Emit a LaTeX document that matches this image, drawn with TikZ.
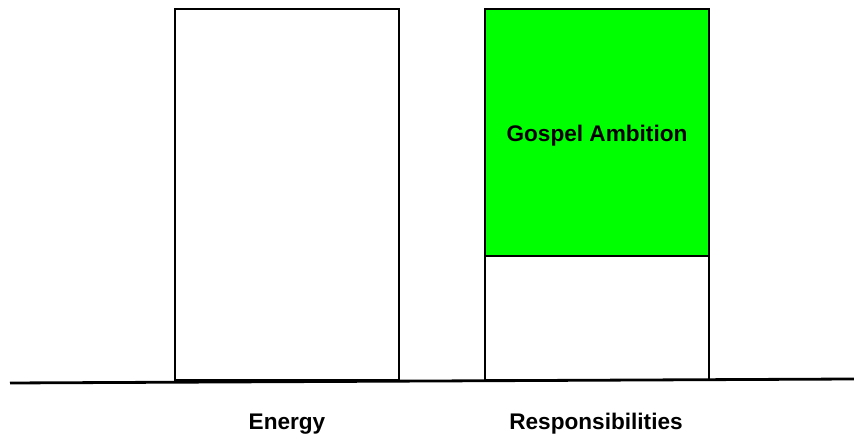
\documentclass[tikz,border=0pt]{standalone}
\usepackage{fontspec}
\setmainfont{Liberation Sans}
\usetikzlibrary{positioning}
\definecolor{ambition}{RGB}{0,255,0}

\begin{document}
\begin{tikzpicture}[x=1pt,y=1pt,line width=2.8pt,
   bar/.style={draw,fill=white,minimum width=224pt,inner sep=0pt,outer sep=0pt},
   lbl/.style={font=\bfseries\fontsize{22.6}{27}\selectfont}]
   \useasboundingbox (0,0) rectangle (854,435);
   \coordinate (ground l) at (10,52);
   \coordinate (ground r) at (854,56);
   \node[bar,minimum height=371pt] (energy) at (287,240.5) {};
   \node[bar,minimum height=124pt] (rest) at (597,117) {};
   \node[bar,fill=ambition,minimum height=247pt] (gospel) [above=0pt of rest] {};
   \node[lbl] (gospel label) at ([yshift=-3pt]gospel.center) {Gospel Ambition};
   \draw (ground l) -- (ground r);
   \node[lbl] (energy label) at (287,11) {Energy};
   \node[lbl] (resp label) at (596,11) {Responsibilities};
\end{tikzpicture}
\end{document}
